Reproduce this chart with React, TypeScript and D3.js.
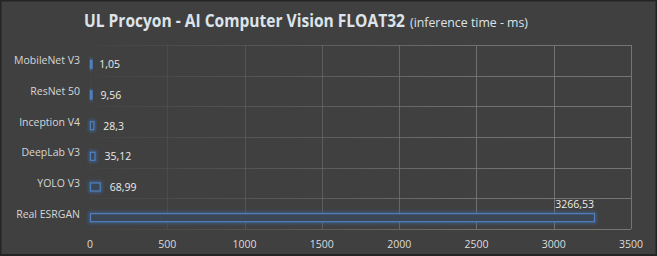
import React, { useLayoutEffect, useRef, useState } from "react";
import * as d3 from "d3";

const categories = ["MobileNet V3", "ResNet 50", "Inception V4", "DeepLab V3", "YOLO V3", "Real ESRGAN"];
const values = [1.05, 9.56, 28.3, 35.12, 68.99, 3266.53];
const valueLabels = ["1,05", "9,56", "28,3", "35,12", "68,99", "3266,53"];
const xTicks = [0, 500, 1000, 1500, 2000, 2500, 3000, 3500];
const titleMain = "UL Procyon - AI Computer Vision FLOAT32";
const titleSub = "(inference time - ms)";

const W = 657;
const H = 256;
const L = 90;
const R = 631;
const T = 45;
const B = 229;

export default function App() {
  const x = d3.scaleLinear().domain([0, 3500]).range([L, R]);
  const y = d3.scaleBand<string>().domain(categories).range([T, B]);
  const bw = y.bandwidth();
  const barH = 9;
  const off = 4;
  const font = "'Open Sans', 'Noto Sans', sans-serif";
  const mainRef = useRef<SVGTextElement>(null);
  const subRef = useRef<SVGTextElement>(null);
  const [sc, setSc] = useState<[number, number]>([0.88, 0.85]);
  useLayoutEffect(() => {
    const m = mainRef.current ? mainRef.current.getComputedTextLength() : 0;
    const s = subRef.current ? subRef.current.getComputedTextLength() : 0;
    if (m > 0 && s > 0) setSc([321 / m, 118 / s]);
  }, []);
  return (
    <div style={{ position: "absolute", left: 0, top: 0, width: W, height: H }}>
      <svg width={W} height={H} style={{ display: "block" }}>
        <defs>
          <linearGradient id="gridGrad" gradientUnits="userSpaceOnUse" x1={L} y1={0} x2={R} y2={0}>
            <stop offset="0" stopColor="#6e6e6e" stopOpacity={0.05} />
            <stop offset="0.35" stopColor="#6e6e6e" stopOpacity={0.5} />
            <stop offset="0.7" stopColor="#727272" stopOpacity={0.95} />
            <stop offset="1" stopColor="#757575" stopOpacity={1} />
          </linearGradient>
          <filter id="glow" x="-50%" y="-80%" width="200%" height="260%">
            <feGaussianBlur in="SourceGraphic" stdDeviation="1.6" />
          </filter>
        </defs>
        <rect x={0} y={0} width={W} height={H} fill="#242424" />
        <rect x={1.5} y={1.5} width={W - 3} height={H - 3.5} fill="#404040" />
        {/* grid */}
        <g stroke="url(#gridGrad)" strokeWidth={1}>
          {xTicks.map((t) => (
            <line key={"v" + t} x1={Math.round(x(t)) + 0.5} x2={Math.round(x(t)) + 0.5} y1={T} y2={B} />
          ))}
          {d3.range(categories.length + 1).map((i) => {
            const yy = Math.round(T + i * bw) + 0.5;
            return <line key={"h" + i} x1={L} x2={R} y1={yy} y2={yy} />;
          })}
        </g>
        {/* title */}
        <g transform={`translate(84,26.5) scale(${sc[0]},1)`}>
          <text ref={mainRef} x={0} y={0} fill="#dde3ea" fontFamily={font} fontWeight={700}
            fontSize={17}>{titleMain}</text>
        </g>
        <g transform={`translate(410,26.5) scale(${sc[1]},1)`}>
          <text ref={subRef} x={0} y={0} fill="#dde3ea" fontFamily={font} fontSize={12.5}>{titleSub}</text>
        </g>
        {/* category labels */}
        {categories.map((c) => (
          <text key={c} x={80} y={(y(c) as number) + bw / 2 + 4} textAnchor="end" fill="#d6d6d6"
            fontFamily={font} fontSize={10.5}>{c}</text>
        ))}
        {/* bars */}
        {categories.map((c, i) => {
          const by = (y(c) as number) + bw / 2 + off - barH / 2;
          const w = Math.max(x(values[i]) - x(0), 2);
          return (
            <g key={"b" + c}>
              <rect x={x(0)} y={by} width={w} height={barH} fill="none" stroke="#3f6fb0"
                strokeWidth={3} opacity={0.6} filter="url(#glow)" />
              <rect x={x(0) + 0.5} y={by + 0.5} width={Math.max(w - 1, 1.5)} height={barH - 1}
                fill={w < 3 ? "#4f81bd" : "#3b4656"} stroke="#4f81bd" strokeWidth={1.2} />
            </g>
          );
        })}
        {/* value labels */}
        {categories.map((c, i) => {
          const cy = (y(c) as number) + bw / 2 + off;
          const last = i === categories.length - 1;
          return last ? (
            <text key={"v" + c} x={x(values[i]) - 1} y={cy - 10} textAnchor="end" fill="#ececec"
              fontFamily={font} fontSize={10.5}>{valueLabels[i]}</text>
          ) : (
            <text key={"v" + c} x={x(values[i]) + 9} y={cy + 4} textAnchor="start" fill="#ececec"
              fontFamily={font} fontSize={10.5}>{valueLabels[i]}</text>
          );
        })}
        {/* x ticks */}
        {xTicks.map((t) => (
          <text key={"t" + t} x={x(t)} y={248} textAnchor="middle" fill="#dcdcdc"
            fontFamily={font} fontSize={10.5}>{t}</text>
        ))}
      </svg>
    </div>
  );
}
